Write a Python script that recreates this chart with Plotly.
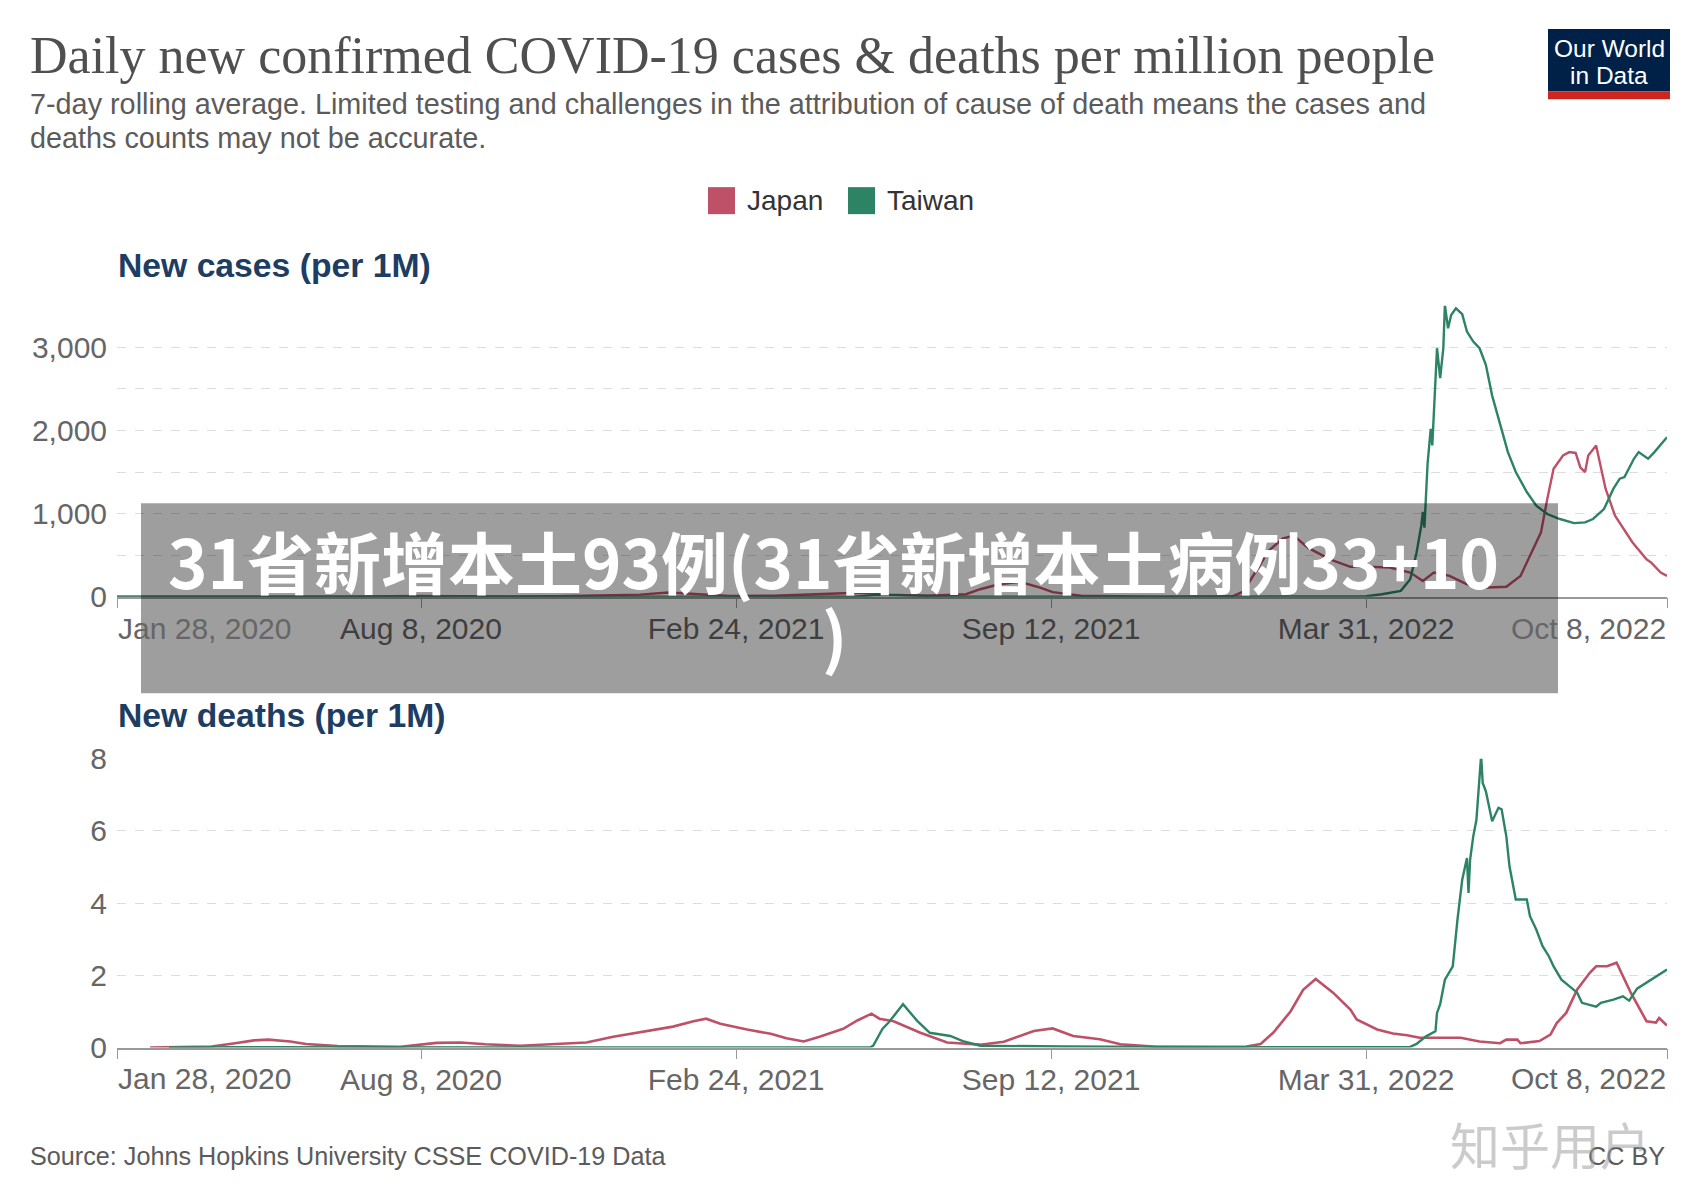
import plotly.graph_objects as go

# ---------------- data ----------------
japan_cases_dates = ["2020-01-28", "2020-03-01", "2020-04-12", "2020-05-20", "2020-06-20", "2020-08-05",
                     "2020-09-01", "2020-10-01", "2020-11-01", "2020-12-01", "2020-12-25", "2021-01-12",
                     "2021-02-01", "2021-02-20", "2021-03-20", "2021-04-15", "2021-05-12", "2021-06-01",
                     "2021-06-25", "2021-07-20", "2021-07-29", "2021-08-10", "2021-08-23", "2021-09-05",
                     "2021-09-13", "2021-10-01", "2021-11-15", "2021-12-25", "2022-01-05", "2022-01-12",
                     "2022-01-18", "2022-01-28", "2022-02-06", "2022-02-13", "2022-02-22", "2022-03-08",
                     "2022-03-21", "2022-04-03", "2022-04-15", "2022-04-28", "2022-05-06", "2022-05-13",
                     "2022-05-23", "2022-06-03", "2022-06-16", "2022-06-28", "2022-07-07", "2022-07-16",
                     "2022-07-20", "2022-07-24", "2022-07-28", "2022-08-03", "2022-08-07", "2022-08-11",
                     "2022-08-14", "2022-08-17", "2022-08-19", "2022-08-24", "2022-08-30", "2022-09-05",
                     "2022-09-16", "2022-09-25", "2022-09-28", "2022-10-04", "2022-10-08"]
japan_cases = [0, 0.1, 4, 0.3, 0.5, 10,
               5, 4, 6, 15, 25, 50,
               25, 10, 12, 28, 48, 25,
               12, 30, 90, 150, 180, 110,
               55, 12, 1, 3, 5, 60,
               250, 550, 700, 735, 590, 450,
               360, 360, 350, 290, 190, 290,
               250, 150, 110, 120, 250, 610,
               775, 1175, 1540, 1700, 1740, 1730,
               1555, 1500, 1700, 1820, 1300, 975,
               655, 450, 410, 290, 250]

taiwan_cases_dates = ["2020-01-28", "2021-05-10", "2021-05-25", "2021-06-10", "2021-07-01", "2021-07-20",
                      "2022-01-01", "2022-03-15", "2022-03-31", "2022-04-10", "2022-04-22", "2022-04-28",
                      "2022-05-02", "2022-05-05", "2022-05-06", "2022-05-07", "2022-05-09", "2022-05-11",
                      "2022-05-12", "2022-05-15", "2022-05-17", "2022-05-19", "2022-05-20", "2022-05-22",
                      "2022-05-24", "2022-05-27", "2022-05-31", "2022-06-03", "2022-06-07", "2022-06-11",
                      "2022-06-15", "2022-06-19", "2022-06-22", "2022-06-25", "2022-06-29", "2022-07-04",
                      "2022-07-11", "2022-07-17", "2022-07-24", "2022-08-01", "2022-08-10", "2022-08-17",
                      "2022-08-22", "2022-08-29", "2022-09-04", "2022-09-08", "2022-09-11", "2022-09-17",
                      "2022-09-20", "2022-09-26", "2022-09-30", "2022-10-08"]
taiwan_cases = [0, 0.5, 22, 18, 5, 1,
                1, 2, 5, 30, 70, 210,
                530, 855, 1020, 830, 1600, 2020,
                1820, 2990, 2630, 2990, 3510, 3230,
                3390, 3470, 3400, 3190, 3070, 2990,
                2790, 2420, 2210, 2020, 1740, 1500,
                1260, 1095, 995, 935, 885, 895,
                935, 1055, 1300, 1420, 1440, 1660,
                1740, 1660, 1740, 1920]

japan_deaths_dates = ["2020-02-18", "2020-03-28", "2020-04-12", "2020-04-24", "2020-05-03", "2020-05-17",
                      "2020-05-27", "2020-06-16", "2020-07-26", "2020-08-18", "2020-09-02", "2020-09-18",
                      "2020-10-10", "2020-11-21", "2020-12-08", "2020-12-29", "2021-01-15", "2021-01-28",
                      "2021-02-05", "2021-02-14", "2021-03-03", "2021-03-18", "2021-03-28", "2021-04-08",
                      "2021-04-18", "2021-05-03", "2021-05-12", "2021-05-21", "2021-05-26", "2021-06-04",
                      "2021-06-21", "2021-07-08", "2021-07-29", "2021-08-13", "2021-09-01", "2021-09-13",
                      "2021-09-26", "2021-10-13", "2021-10-26", "2021-11-18", "2022-01-14", "2022-01-23",
                      "2022-01-31", "2022-02-11", "2022-02-19", "2022-02-27", "2022-03-10", "2022-03-21",
                      "2022-03-25", "2022-04-07", "2022-04-17", "2022-04-26", "2022-05-04", "2022-05-30",
                      "2022-06-11", "2022-06-24", "2022-06-28", "2022-07-05", "2022-07-07", "2022-07-19",
                      "2022-07-26", "2022-07-30", "2022-08-05", "2022-08-12", "2022-08-20", "2022-08-24",
                      "2022-08-31", "2022-09-06", "2022-09-15", "2022-09-25", "2022-10-01", "2022-10-03",
                      "2022-10-08"]
japan_deaths = [0, 0.03, 0.12, 0.2, 0.22, 0.17,
                0.1, 0.04, 0.02, 0.13, 0.14, 0.09,
                0.05, 0.14, 0.3, 0.45, 0.58, 0.73,
                0.8, 0.66, 0.5, 0.38, 0.26, 0.17,
                0.3, 0.52, 0.75, 0.94, 0.8, 0.73,
                0.41, 0.14, 0.08, 0.16, 0.46, 0.53,
                0.32, 0.23, 0.09, 0.02, 0.03, 0.1,
                0.41, 1.0, 1.6, 1.9, 1.52, 1.05,
                0.78, 0.5, 0.39, 0.34, 0.27, 0.27,
                0.17, 0.12, 0.22, 0.22, 0.12, 0.18,
                0.36, 0.68, 0.96, 1.61, 2.07, 2.25,
                2.25, 2.35, 1.52, 0.73, 0.69, 0.82,
                0.61]

taiwan_deaths_dates = ["2020-03-01", "2020-04-15", "2021-05-20", "2021-05-22", "2021-05-28", "2021-06-01",
                       "2021-06-10", "2021-06-19", "2021-06-27", "2021-07-10", "2021-07-18", "2021-07-29",
                       "2021-09-20", "2021-12-28", "2022-04-28", "2022-05-02", "2022-05-08", "2022-05-14",
                       "2022-05-15", "2022-05-17", "2022-05-20", "2022-05-25", "2022-05-28", "2022-05-31",
                       "2022-06-03", "2022-06-04", "2022-06-05", "2022-06-07", "2022-06-09", "2022-06-12",
                       "2022-06-13", "2022-06-15", "2022-06-19", "2022-06-23", "2022-06-25", "2022-06-28",
                       "2022-06-30", "2022-07-04", "2022-07-11", "2022-07-13", "2022-07-17", "2022-07-21",
                       "2022-07-25", "2022-07-28", "2022-08-02", "2022-08-07", "2022-08-12", "2022-08-15",
                       "2022-08-24", "2022-08-27", "2022-09-04", "2022-09-10", "2022-09-14", "2022-09-19",
                       "2022-09-25", "2022-10-02", "2022-10-08"]
taiwan_deaths = [0, 0.01, 0, 0.05, 0.52, 0.7,
                 1.2, 0.74, 0.41, 0.32, 0.18, 0.05,
                 0.03, 0.01, 0.02, 0.1, 0.31, 0.45,
                 0.96, 1.2, 1.88, 2.25, 3.55, 4.65,
                 5.25, 4.28, 5.2, 5.85, 6.3, 8.09,
                 7.33, 7.1, 6.27, 6.64, 6.6, 5.85,
                 5.02, 4.1, 4.1, 3.64, 3.27, 2.81,
                 2.53, 2.25, 1.88, 1.7, 1.52, 1.24,
                 1.13, 1.24, 1.33, 1.42, 1.3, 1.63,
                 1.79, 1.98, 2.16]

tick_dates = ["2020-01-28", "2020-08-08", "2021-02-24", "2021-09-12", "2022-03-31", "2022-10-08"]
tick_labels = ["Jan 28, 2020", "Aug 8, 2020", "Feb 24, 2021", "Sep 12, 2021", "Mar 31, 2022", "Oct 8, 2022"]

JAPAN = "#BE5168"
TAIWAN = "#2C8465"
OFF = 8                      # page body margin added by the browser
W, H = 1700 - 2 * OFF, 1200 - 2 * OFF
# measured vertical placement of the figure in the captured page
VT, VS = 17.1, 0.972
SANS = "Liberation Sans, Arial, sans-serif"


def px(x):
    return (x - OFF) / W


def py(y):
    t = (y - VT) / VS
    return 1 - (t - OFF) / H


fig = go.Figure()
fig.add_trace(go.Scatter(x=japan_cases_dates, y=japan_cases, mode="lines", name="Japan",
                         line=dict(color=JAPAN, width=2.4), xaxis="x", yaxis="y", showlegend=False))
fig.add_trace(go.Scatter(x=taiwan_cases_dates, y=taiwan_cases, mode="lines", name="Taiwan",
                         line=dict(color=TAIWAN, width=2.4), xaxis="x", yaxis="y", showlegend=False))
fig.add_trace(go.Scatter(x=japan_deaths_dates, y=japan_deaths, mode="lines", name="Japan",
                         line=dict(color=JAPAN, width=2.6), xaxis="x2", yaxis="y2", showlegend=False))
fig.add_trace(go.Scatter(x=taiwan_deaths_dates, y=taiwan_deaths, mode="lines", name="Taiwan",
                         line=dict(color=TAIWAN, width=2.4), xaxis="x2", yaxis="y2", showlegend=False))

xdom = [px(117), px(1667)]
xcommon = dict(type="date", range=[tick_dates[0], tick_dates[-1]], domain=xdom,
               tickvals=tick_dates, ticktext=[""] + tick_labels[1:-1] + [""],
               ticks="outside", ticklen=10, tickcolor="#999999", tickwidth=1,
               showline=True, linecolor="#999999", linewidth=1.5, showgrid=False,
               tickfont=dict(family=SANS, size=30, color="#666666"), ticklabelstandoff=-5,
               fixedrange=True)
ycommon = dict(showgrid=True, gridcolor="#dddddd", griddash="dash", gridwidth=1,
               zeroline=False, ticks="", tickfont=dict(family=SANS, size=30, color="#666666"),
               ticklabelstandoff=9, fixedrange=True)

fig.update_layout(
    width=W, height=H, margin=dict(l=0, r=0, t=0, b=0),
    paper_bgcolor="white", plot_bgcolor="white", showlegend=False,
    xaxis=dict(anchor="y", **xcommon),
    xaxis2=dict(anchor="y2", **xcommon),
    yaxis=dict(anchor="x", domain=[py(597.5), py(306.7)], range=[0, 3500], tickvals=[0, 1000, 2000, 3000],
               tickformat=",", minor=dict(dtick=500, showgrid=True, gridcolor="#dddddd", griddash="dash"),
               **ycommon),
    yaxis2=dict(anchor="x2", domain=[py(1048.3), py(759.5)], range=[0, 8], dtick=2, **ycommon),
)


def note(text, x, y, xanchor, size, color, family=SANS, yanchor="middle"):
    return dict(text=text, x=px(x), y=py(y), xref="paper", yref="paper", xanchor=xanchor, yanchor=yanchor,
                showarrow=False, font=dict(family=family, size=size, color=color))


ann = [
    note("Daily new confirmed COVID-19 cases & deaths per million people", 28, 56, "left", 52, "#4f4f4f",
         family="Liberation Serif, Times New Roman, serif"),
    note("7-day rolling average. Limited testing and challenges in the attribution of cause of death means the cases and",
         28, 105, "left", 28.8, "#5b5b5b"),
    note("deaths counts may not be accurate.", 28, 139, "left", 28.8, "#5b5b5b"),
    note("Our World", 1609, 49, "center", 24.5, "white"),
    note("in Data", 1609, 76, "center", 24.5, "white"),
    note("Japan", 745, 201, "left", 28, "#333333"),
    note("Taiwan", 885, 201, "left", 28, "#333333"),
    note("<b>New cases (per 1M)</b>", 116, 266, "left", 33.7, "#1d3d63"),
    note("<b>New deaths (per 1M)</b>", 116, 716, "left", 33.7, "#1d3d63"),
    note("Source: Johns Hopkins University CSSE COVID-19 Data", 28, 1157, "left", 25.2, "#5b5b5b"),
    note("CC BY", 1667, 1157, "right", 25.2, "#5b5b5b"),
]
for yy in (629, 1079):
    ann.append(note(tick_labels[0], 116, yy, "left", 30, "#666666"))
    ann.append(note(tick_labels[-1], 1668, yy, "right", 30, "#666666"))
ann.append(note("<b>31省新增本土93例(31省新增本土病例33+10</b>", 833, 560, "center", 67, "white",
                family="Noto Sans CJK SC"))
ann.append(note("<b>)</b>", 834, 634, "center", 67, "white", family="Noto Sans CJK SC"))
ann.append(note("知乎用户", 1550, 1144, "center", 50, "rgba(160,160,160,0.55)", family="Noto Sans CJK SC"))


def rect(x0, x1, y0, y1, color, layer="above"):
    return dict(type="rect", xref="paper", yref="paper", x0=px(x0), x1=px(x1), y0=py(y1), y1=py(y0),
                fillcolor=color, line=dict(width=0), layer=layer)


shapes = [
    rect(1548, 1670, 30, 92, "#002147"),
    rect(1548, 1670, 92, 100, "#ce261e"),
    rect(708, 735, 188, 215, JAPAN),
    rect(848, 875, 188, 215, TAIWAN),
    rect(141, 1558, 504, 694, "rgba(0,0,0,0.38)"),
]
fig.update_layout(annotations=ann, shapes=shapes)

fig.write_html("out.html")
